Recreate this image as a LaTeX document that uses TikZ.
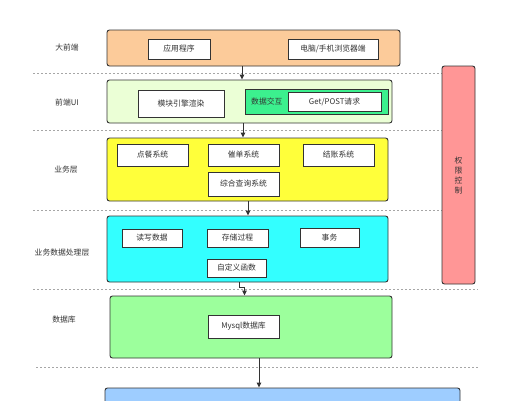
\documentclass[tikz,border=0pt]{standalone}
\usepackage{fontspec}
\setmainfont{Noto Sans CJK SC}
\usetikzlibrary{arrows.meta}
\definecolor{cOrange}{HTML}{FCCB9A}
\definecolor{cPale}{HTML}{EBFFD6}
\definecolor{cGreen}{HTML}{3CF08E}
\definecolor{cYellow}{HTML}{FFFF3A}
\definecolor{cCyan}{HTML}{33FFFF}
\definecolor{cLight}{HTML}{9CFF9C}
\definecolor{cRed}{HTML}{FF9696}
\definecolor{cBlue}{HTML}{9ECDFF}
\definecolor{cLine}{HTML}{333333}
\definecolor{cText}{HTML}{333333}
\tikzset{
  band/.style={draw=cLine, line width=0.9pt, rounded corners=2.5pt, inner sep=0pt},
  wbox/.style={draw=cLine, line width=0.9pt, fill=white, inner sep=0pt, text=cText, font=\fontsize{7.8}{9}\selectfont},
  lbl/.style={font=\fontsize{7.8}{9}\selectfont, inner sep=0pt, text=cText},
  sep/.style={draw=gray!70, line width=0.5pt, dash pattern=on 2pt off 2pt},
  arr/.style={draw=cLine, line width=0.9pt, -{Triangle[length=5pt,width=4.5pt]}},
}
\newcommand{\bx}[6]{% name, style, x1,y1,x2,y2
  \node[#2, minimum width={#5-#3}, minimum height={#6-#4}] (#1) at ({(#3+#5)/2},{(#4+#6)/2})}
\begin{document}
\begin{tikzpicture}[x=1pt,y=-1pt]
\useasboundingbox (0,0) rectangle (517,400);
\clip (0,0) rectangle (517,400);
% separators
\draw[sep] (33,73) -- (442,73);
\draw[sep] (33,130) -- (442,130);
\draw[sep] (33,210) -- (442,210);
\draw[sep] (33,289) -- (478,289);
\draw[sep] (36,367) -- (478,367);
% row labels
\node[lbl] (l1) at (67,48) {大前端};
\node[lbl] (l2) at (67,103) {前端UI};
\node[lbl] (l3) at (66,170) {业务层};
\node[lbl] (l4) at (62,253) {业务数据处理层};
\node[lbl] (l5) at (64,320) {数据库};
% bands
\bx{b1}{band, fill=cOrange}{107}{30}{400}{66} {};
\bx{b2}{band, fill=cPale}{107}{80}{392}{123} {};
\bx{b3}{band, fill=cYellow}{107}{138}{388}{201} {};
\bx{b4}{band, fill=cCyan}{107}{216}{388}{282} {};
\bx{b5}{band, fill=cLight}{110}{296}{392}{358} {};
\bx{b6}{band, fill=cBlue}{105}{388}{460}{430} {};
\bx{red}{band, fill=cRed}{442}{66}{475}{284} {};
\node[lbl, align=center, font=\fontsize{7.8}{10}\selectfont] (qx) at (458.5,176) {权\\限\\控\\制};
% band 1
\bx{a1}{wbox}{148}{39}{210}{59} {应用程序};
\bx{a2}{wbox}{288}{39}{378}{59} {电脑/手机浏览器端};
% band 2
\bx{m1}{wbox}{138}{90}{224}{117} {模块引擎渲染};
\bx{g1}{draw=cLine, line width=0.9pt, fill=cGreen, inner sep=0pt}{245}{89}{388}{114} {};
\node[lbl, anchor=west] (g1t) at (251,101.5) {数据交互};
\bx{g2}{wbox}{288}{92}{381}{111} {Get/POST请求};
% band 3
\bx{y1}{wbox}{117}{144}{188}{166} {点餐系统};
\bx{y2}{wbox}{208}{144}{279}{166} {催单系统};
\bx{y3}{wbox}{303}{144}{374}{166} {结账系统};
\bx{y4}{wbox}{208}{172}{279}{196} {综合查询系统};
% band 4
\bx{c1}{wbox}{122}{229}{182}{247} {读写数据};
\bx{c2}{wbox}{207}{229}{268}{247} {存储过程};
\bx{c3}{wbox}{300}{228}{359}{247} {事务};
\bx{c4}{wbox}{207}{259}{266}{277} {自定义函数};
% band 5
\bx{d1}{wbox}{208}{315}{279}{338} {Mysql数据库};
% arrows
\draw[arr] (b1.south -| 242,0) -- (b2.north -| 242,0);
\draw[arr] (b2.south -| 243,0) -- (b3.north -| 243,0);
\draw[arr] (b3.south -| 248,0) -- (b4.north -| 248,0);
\coordinate (k1) at (239,287);
\coordinate (k2) at (244.5,287);
\draw[arr] (b4.south -| k1) -- (k1) -- (k2) -- (b5.north -| k2);
\draw[arr] (b5.south -| 259,0) -- (b6.north -| 259,0);
\end{tikzpicture}
\end{document}
